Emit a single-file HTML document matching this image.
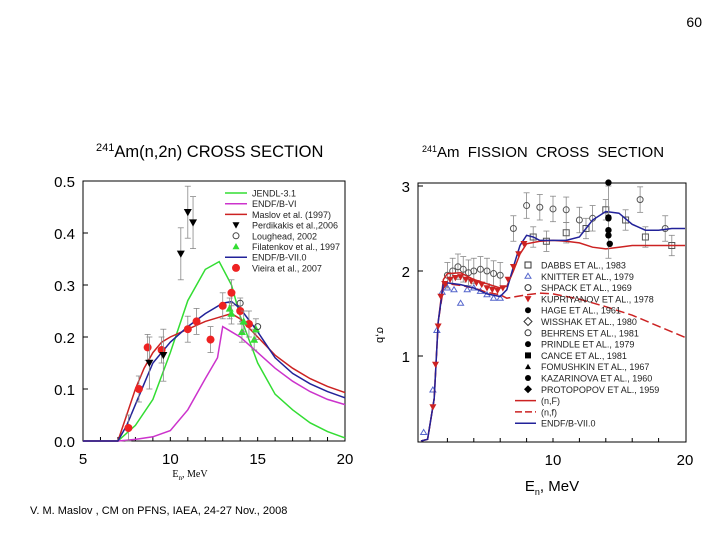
<!DOCTYPE html>
<html><head><meta charset="utf-8"><style>
body{margin:0;background:#fff;width:720px;height:540px;overflow:hidden;font-family:"Liberation Sans",sans-serif}
svg{position:absolute;left:0;top:0}
</style></head><body>
<svg id="s" width="720" height="540" viewBox="0 0 720 540">
<text x="702" y="27" font-size="14" text-anchor="end">60</text>
<text x="96" y="157" font-size="16.5"><tspan font-size="11" dy="-6">241</tspan><tspan dy="6">Am(n,2n) CROSS SECTION</tspan></text>
<text x="422" y="157" font-size="15" word-spacing="4"><tspan font-size="9" dy="-5">241</tspan><tspan dy="5">Am  FISSION  CROSS  SECTION</tspan></text>
<text x="190" y="477" font-size="10" font-family="Liberation Serif,serif" text-anchor="middle">E<tspan font-size="7" dy="3">n</tspan><tspan dy="-3">, MeV</tspan></text>
<text x="552" y="491" font-size="15" text-anchor="middle">E<tspan font-size="9" dy="4">n</tspan><tspan dy="-4">,  MeV</tspan></text>
<text x="377" y="335" font-size="11" transform="rotate(90 377 335)" text-anchor="middle">σ,b</text>
<text x="30" y="514" font-size="11">V. M. Maslov ,   CM on PFNS, IAEA, 24-27 Nov., 2008</text>
<g id="L"></g>
<g id="R"></g>
</svg>
<script>
// Left chart data
const lJendlX=[5,7,8,9,10,11,12,12.8,13.5,14,15,16,17,18,19,20];
const lJendlY=[0,0,0.03,0.08,0.17,0.27,0.33,0.345,0.3,0.24,0.15,0.09,0.06,0.035,0.018,0.006];
const lEndf6X=[5,7,8,9,10,11,12,12.7,13,13.5,14,15,16,17,18,19,20];
const lEndf6Y=[0,0,0.003,0.008,0.02,0.06,0.12,0.16,0.22,0.21,0.2,0.17,0.14,0.115,0.095,0.08,0.07];
const lMaslovX=[5,7,7.5,8,8.5,9,9.5,10,11,12,13,13.5,14,15,16,17,18,19,20];
const lMaslovY=[0,0,0.05,0.1,0.14,0.17,0.19,0.2,0.215,0.23,0.24,0.245,0.235,0.2,0.165,0.14,0.12,0.105,0.093];
const lEndf7X=[5,7,7.5,8,8.5,9,10,11,12,13,13.5,14,15,16,17,18,19,20];
const lEndf7Y=[0,0,0.03,0.07,0.11,0.15,0.19,0.22,0.245,0.265,0.268,0.255,0.21,0.16,0.13,0.11,0.095,0.083];
const vieiraX=[7.6,8.2,8.7,9.5,11,11.5,12.3,13,13.5,14,14.5];
const vieiraY=[0.025,0.1,0.18,0.175,0.215,0.23,0.195,0.26,0.285,0.25,0.225];
const perdX=[8.8,9.6,10.6,11,11.3];
const perdY=[0.15,0.165,0.36,0.44,0.42];
const filX=[13.4,13.5,14.1,14.2,14.8,14.9];
const filY=[0.255,0.245,0.21,0.23,0.195,0.215];
const lougX=[14,15];
const lougY=[0.265,0.22];
const lYTicks=["0.0","0.1","0.2","0.3","0.4","0.5"];
const lXTicks=["5","10","15","20"];
// Right chart data
const rNFX=[0,0.5,1,1.3,1.7,2,3,4,5,6,6.5,7,7.5,8,9,10,11,12,13,14,15,16,18,20];
const rNFY=[0,0.02,0.5,1.4,1.9,1.97,1.98,1.9,1.85,1.8,1.82,2.0,2.2,2.32,2.35,2.36,2.35,2.33,2.28,2.26,2.28,2.3,2.3,2.3];
const rNfX=[0,0.5,1,1.3,1.7,2,3,4,5,6,6.5,8,9,10,12,14,16,18,20];
const rNfY=[0,0.02,0.5,1.4,1.8,1.85,1.83,1.8,1.75,1.72,1.68,1.72,1.74,1.73,1.67,1.58,1.48,1.35,1.22];
const rEndfX=[0,0.5,1,1.3,1.7,2,3,4,5,6,6.5,7,7.5,8,8.5,9,10,11,12,13,14,15,16,17,18,19,20];
const rEndfY=[0,0.02,0.5,1.4,1.85,1.86,1.84,1.8,1.73,1.7,1.78,2.05,2.3,2.42,2.4,2.36,2.36,2.36,2.4,2.6,2.7,2.68,2.55,2.48,2.48,2.5,2.5];
const kupX=[0.9,1.1,1.3,1.5,1.8,2.2,2.6,3.0,3.4,3.8,4.2,4.6,5.0,5.4,5.8,6.2,6.6,7.0,7.4,7.8];
const kupY=[0.4,0.9,1.35,1.7,1.85,1.9,1.92,1.93,1.9,1.88,1.86,1.84,1.8,1.78,1.77,1.8,1.9,2.05,2.2,2.32];
const knitX=[0.2,0.9,1.2,1.6,2.0,2.5,3.0,3.5,4.0,4.5,5.0,5.5,6.0];
const knitY=[0.1,0.6,1.3,1.75,1.8,1.78,1.62,1.78,1.8,1.76,1.72,1.68,1.68];
const circX=[2.0,2.4,2.8,3.2,3.6,4.0,4.5,5.0,5.5,6.0,7.0,8.0,9.0,10.0,11.0,12.0,13.0,16.6,18.5];
const circY=[1.95,2.0,2.05,2.02,1.98,2.0,2.02,2.0,1.97,1.95,2.5,2.77,2.75,2.73,2.72,2.6,2.62,2.84,2.5];
const sqX=[8.5,9.5,11,12.5,14,15.5,17,19];
const sqY=[2.4,2.35,2.45,2.5,2.72,2.6,2.4,2.3];
const blkX=[14.2,14.2,14.2,14.2,14.3,14.2];
const blkY=[3.04,2.63,2.48,2.42,2.32,2.62];
const rYTicks=["1","2","3"];
const rXTicks=["10","20"];

const NS="http://www.w3.org/2000/svg";
function mk(p,tag,a){const e=document.createElementNS(NS,tag);for(const k in a)e.setAttribute(k,a[k]);p.appendChild(e);return e;}
const lx=v=>83+(v-5)*(262/15), ly=v=>441-v*520;
const L=document.getElementById('L');
let fr=mk(L,'rect',{x:83,y:181,width:262,height:260,fill:'none',stroke:'#000','stroke-width':1});


lYTicks.forEach(t=>{const v=+t;let tx=mk(L,'text',{x:75,y:ly(v)+6,'font-size':15,'text-anchor':'end'});tx.textContent=t;


mk(L,'line',{x1:83,x2:88,y1:ly(v),y2:ly(v),stroke:'#000'});});
lXTicks.forEach(t=>{const v=+t;let tx=mk(L,'text',{x:lx(v),y:464,'font-size':15,'text-anchor':'middle'});tx.textContent=t;

});
for(let v=6;v<20;v++)mk(L,'line',{x1:lx(v),x2:lx(v),y1:441,y2:437,stroke:'#000'});
function curve(p,X,Y,fx,fy,col,name,dash){let d=X.map((x,i)=>(i?'L':'M')+fx(x).toFixed(1)+','+fy(Y[i]).toFixed(1)).join('');
const e=mk(p,'path',{d:d,fill:'none',stroke:col,'stroke-width':1.5,'stroke-dasharray':dash||'none'});

}
curve(L,lJendlX,lJendlY,lx,ly,'#33dd33','jendl-curve');
curve(L,lEndf6X,lEndf6Y,lx,ly,'#cc33cc','endf-b6-curve');
curve(L,lMaslovX,lMaslovY,lx,ly,'#cc2222','maslov-curve');
curve(L,lEndf7X,lEndf7Y,lx,ly,'#222299','endf-b7-curve');
function err(p,x,y1,y2){mk(p,'line',{x1:x,x2:x,y1:y1,y2:y2,stroke:'#888','stroke-width':0.8});mk(p,'line',{x1:x-3,x2:x+3,y1:y1,y2:y1,stroke:'#888','stroke-width':0.8});mk(p,'line',{x1:x-3,x2:x+3,y1:y2,y2:y2,stroke:'#888','stroke-width':0.8});}
function tri(p,x,y,up,col,s){const pts=up?`${x},${y-s} ${x-s},${y+s*0.8} ${x+s},${y+s*0.8}`:`${x},${y+s} ${x-s},${y-s*0.8} ${x+s},${y-s*0.8}`;return mk(p,'polygon',{points:pts,fill:col});}
vieiraX.forEach((x,i)=>{err(L,lx(x),ly(vieiraY[i]+0.025),ly(vieiraY[i]-0.025));const c=mk(L,'circle',{cx:lx(x),cy:ly(vieiraY[i]),r:4,fill:'#ee2222'});

});
perdX.forEach((x,i)=>{err(L,lx(x),ly(perdY[i]+0.05),ly(perdY[i]-0.05));const c=tri(L,lx(x),ly(perdY[i]),false,'#000',4);

});
filX.forEach((x,i)=>{err(L,lx(x),ly(filY[i]+0.02),ly(filY[i]-0.02));const c=tri(L,lx(x),ly(filY[i]),true,'#33dd33',4);

});
lougX.forEach((x,i)=>{const c=mk(L,'circle',{cx:lx(x),cy:ly(lougY[i]),r:3,fill:'none',stroke:'#444'});

});
const lLeg=[['line','#33dd33','JENDL-3.1'],['line','#cc33cc','ENDF/B-VI'],['line','#cc2222','Maslov et al. (1997)'],['tdn','#000','Perdikakis et al.,2006'],['circ','#444','Loughead, 2002'],['tup','#33dd33','Filatenkov et al., 1997'],['line','#222299','ENDF/B-VII.0'],['dot','#ee2222','Vieira et al., 2007']];
lLeg.forEach((it,i)=>{const y=193+i*10.7;const g=mk(L,'g',{});


if(it[0]=='line')mk(g,'line',{x1:225,x2:247,y1:y,y2:y,stroke:it[1],'stroke-width':1.5});
else if(it[0]=='tdn')tri(g,236,y,false,it[1],3.5);else if(it[0]=='tup')tri(g,236,y,true,it[1],3.5);
else if(it[0]=='circ')mk(g,'circle',{cx:236,cy:y,r:3,fill:'none',stroke:it[1]});else mk(g,'circle',{cx:236,cy:y,r:4,fill:it[1]});
const t=mk(g,'text',{x:252,y:y+3.5,'font-size':9,fill:'#222'});t.textContent=it[2];});
const rx=v=>421+v*13.2, ry=v=>441-v*85;
const R=document.getElementById('R');
fr=mk(R,'rect',{x:418,y:183,width:268,height:259,fill:'none',stroke:'#000','stroke-width':1});


rYTicks.forEach(t=>{const v=+t;let tx=mk(R,'text',{x:410,y:ry(v)+6,'font-size':15,'text-anchor':'end'});tx.textContent=t;


mk(R,'line',{x1:418,x2:423,y1:ry(v),y2:ry(v),stroke:'#000'});});
rXTicks.forEach(t=>{const v=+t;let tx=mk(R,'text',{x:rx(v),y:465,'font-size':15,'text-anchor':'middle'});tx.textContent=t;

});
for(let v=2;v<20;v+=2)mk(R,'line',{x1:rx(v),x2:rx(v),y1:442,y2:438,stroke:'#000'});
circX.forEach((x,i)=>{err(R,rx(x),ry(circY[i]+0.15),ry(circY[i]-0.15));const c=mk(R,'circle',{cx:rx(x),cy:ry(circY[i]),r:3,fill:'none',stroke:'#555'});

});
sqX.forEach((x,i)=>{err(R,rx(x),ry(sqY[i]+0.12),ry(sqY[i]-0.12));const c=mk(R,'rect',{x:rx(x)-3,y:ry(sqY[i])-3,width:6,height:6,fill:'none',stroke:'#555'});

});
knitX.forEach((x,i)=>{const c=mk(R,'polygon',{points:`${rx(x)},${ry(knitY[i])-3} ${rx(x)-3},${ry(knitY[i])+2} ${rx(x)+3},${ry(knitY[i])+2}`,fill:'none',stroke:'#5566cc'});

});
curve(R,rNFX,rNFY,rx,ry,'#cc2222','nF-curve');
curve(R,rNfX,rNfY,rx,ry,'#cc2222','nf-dashed-curve','9,4');
curve(R,rEndfX,rEndfY,rx,ry,'#222299','endf-b7-curve');
kupX.forEach((x,i)=>{const c=tri(R,rx(x),ry(kupY[i]),false,'#cc2222',3.5);

});
err(R,rx(14.2),ry(3.0),ry(2.15));
blkX.forEach((x,i)=>{const c=mk(R,'circle',{cx:rx(x),cy:ry(blkY[i]),r:3.2,fill:'#000'});

});
const rLeg=[['sq','DABBS  ET  AL., 1983'],['tri','KNITTER  ET  AL.,  1979'],['circ','SHPACK  ET  AL.,  1969'],['kup','KUPRIYANOV  ET  AL.,  1978'],['dot','HAGE ET AL., 1961'],['dia','WISSHAK ET AL., 1980'],['circ','BEHRENS ET AL., 1981'],['dot','PRINDLE ET AL., 1979'],['fsq','CANCE ET AL., 1981'],['ftri','FOMUSHKIN  ET  AL.,  1967'],['dot','KAZARINOVA  ET  AL.,  1960'],['fdia','PROTOPOPOV  ET  AL.,  1959'],['line','(n,F)'],['dash','(n,f)'],['bline','ENDF/B-VII.0']];
rLeg.forEach((it,i)=>{const y=265+i*11.3;const g=mk(R,'g',{});


const cx=528,k=it[0];
if(k=='sq')mk(g,'rect',{x:cx-3,y:y-3,width:6,height:6,fill:'none',stroke:'#333'});
else if(k=='fsq')mk(g,'rect',{x:cx-3,y:y-3,width:6,height:6,fill:'#000'});
else if(k=='tri')mk(g,'polygon',{points:`${cx},${y-3} ${cx-3},${y+2} ${cx+3},${y+2}`,fill:'none',stroke:'#5566cc'});
else if(k=='ftri')tri(g,cx,y,true,'#000',3);
else if(k=='kup')tri(g,cx,y,false,'#cc2222',3.5);
else if(k=='circ')mk(g,'circle',{cx:cx,cy:y,r:3,fill:'none',stroke:'#333'});
else if(k=='dot')mk(g,'circle',{cx:cx,cy:y,r:3,fill:'#000'});
else if(k=='dia')mk(g,'polygon',{points:`${cx},${y-4} ${cx+4},${y} ${cx},${y+4} ${cx-4},${y}`,fill:'none',stroke:'#333'});
else if(k=='fdia')mk(g,'polygon',{points:`${cx},${y-4} ${cx+4},${y} ${cx},${y+4} ${cx-4},${y}`,fill:'#000'});
else mk(g,'line',{x1:515,x2:536,y1:y,y2:y,stroke:k=='bline'?'#222299':'#cc2222','stroke-width':1.5,'stroke-dasharray':k=='dash'?'7,3':'none'});
const t=mk(g,'text',{x:541,y:y+3.5,'font-size':9,fill:'#222'});t.textContent=it[1];});
</script>
</body></html>
